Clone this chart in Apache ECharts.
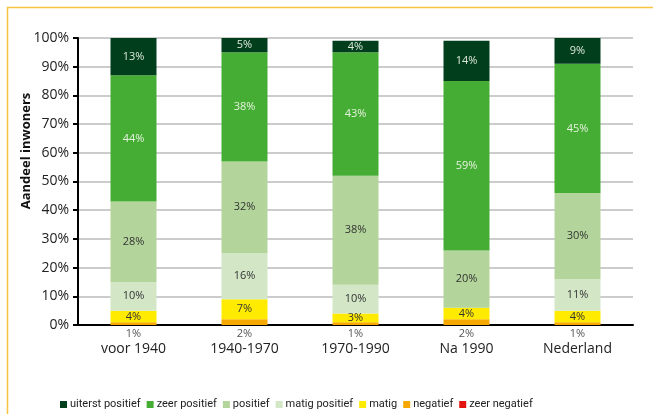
<!DOCTYPE html>
<html>
<head>
<meta charset="utf-8">
<script src="https://cdn.jsdelivr.net/npm/echarts@6/dist/echarts.min.js"></script>
<style>
  html, body { margin: 0; padding: 0; background: #ffffff; }
  #chart { width: 653px; height: 414px; }
</style>
</head>
<body>
<div id="chart"></div>
<script>
// Periods of construction and the share of inhabitants per rating (%)
const categories = ['voor 1940', '1940-1970', '1970-1990', 'Na 1990', 'Nederland'];

const zeerNegatief    = [0, 0, 0, 0, 0];
const negatief        = [1, 2, 1, 2, 1];
const matig           = [4, 7, 3, 4, 4];
const matigPositief   = [10, 16, 10, 0, 11];
const positief        = [28, 32, 38, 20, 30];
const zeerPositief    = [44, 38, 43, 59, 45];
const uiterstPositief = [13, 5, 4, 14, 9];

const yTicks = [0, 10, 20, 30, 40, 50, 60, 70, 80, 90, 100];

const FONT = '"Open Sans", sans-serif';
const NARROW = 'Roboto, sans-serif';

const layers = [
  { name: 'zeer negatief',    data: zeerNegatief,    color: '#e3140f', label: null },
  { name: 'negatief',         data: negatief,        color: '#f6a800', label: { position: 'bottom', color: '#555555', distance: 3 } },
  { name: 'matig',            data: matig,           color: '#ffeb00', label: { position: 'inside', color: '#333333' } },
  { name: 'matig positief',   data: matigPositief,   color: '#d3e7c7', label: { position: 'inside', color: '#333333' } },
  { name: 'positief',         data: positief,        color: '#b3d59b', label: { position: 'inside', color: '#333333' } },
  { name: 'zeer positief',    data: zeerPositief,    color: '#46ad34', label: { position: 'inside', color: '#e6f2e0' } },
  { name: 'uiterst positief', data: uiterstPositief, color: '#013f1c', label: { position: 'inside', color: '#dfe8dc' } }
];

const series = layers.map(l => ({
  name: l.name,
  type: 'bar',
  stack: 'total',
  barWidth: 46,
  data: l.data,
  itemStyle: { color: l.color },
  label: l.label ? {
    show: true,
    position: l.label.position,
    distance: l.label.distance || 5,
    color: l.label.color,
    fontFamily: FONT,
    fontSize: 11,
    formatter: p => (p.value > 0 ? p.value + '%' : '')
  } : { show: false }
}));

const legendOrder = ['uiterst positief', 'zeer positief', 'positief', 'matig positief', 'matig', 'negatief', 'zeer negatief'];

const chart = echarts.init(document.getElementById('chart'), null, { renderer: 'canvas' });
chart.setOption({
  animation: false,
  backgroundColor: '#ffffff',
  grid: { left: 78, right: 20, top: 38, bottom: 89 },
  legend: {
    data: legendOrder,
    left: 55,
    top: 394,
    itemWidth: 7,
    itemHeight: 7,
    itemGap: 6,
    icon: 'rect',
    textStyle: { fontFamily: NARROW, fontSize: 11, color: '#222222', padding: [0, 0, 0, -2] }
  },
  xAxis: {
    type: 'category',
    data: categories,
    axisLine: { lineStyle: { color: '#000000', width: 2 } },
    axisTick: { show: false },
    axisLabel: { fontFamily: FONT, fontSize: 14, color: '#222222', margin: 17 }
  },
  yAxis: {
    type: 'value',
    min: yTicks[0],
    max: yTicks[yTicks.length - 1],
    interval: 10,
    axisLine: { show: true, lineStyle: { color: '#000000', width: 2 } },
    axisTick: { show: true, length: 5, lineStyle: { color: '#000000', width: 2 } },
    axisLabel: { fontFamily: FONT, fontSize: 14, color: '#222222', margin: 9, formatter: v => v + '%' },
    splitLine: { lineStyle: { color: '#cccccc', width: 2 } }
  },
  graphic: [
    { type: 'line', shape: { x1: 7, y1: 7.5, x2: 653, y2: 7.5 }, style: { stroke: '#fbc440', lineWidth: 1.5 } },
    { type: 'line', shape: { x1: 7.5, y1: 7, x2: 7.5, y2: 414 }, style: { stroke: '#fbc440', lineWidth: 1.5 } },
    {
      type: 'text',
      x: 26, y: 151,
      rotation: Math.PI / 2,
      style: {
        text: 'Aandeel inwoners',
        fontFamily: FONT, fontSize: 13, fontWeight: 'bold', fill: '#111111',
        textAlign: 'center', textVerticalAlign: 'middle'
      }
    }
  ],
  series: series
});
</script>
</body>
</html>
